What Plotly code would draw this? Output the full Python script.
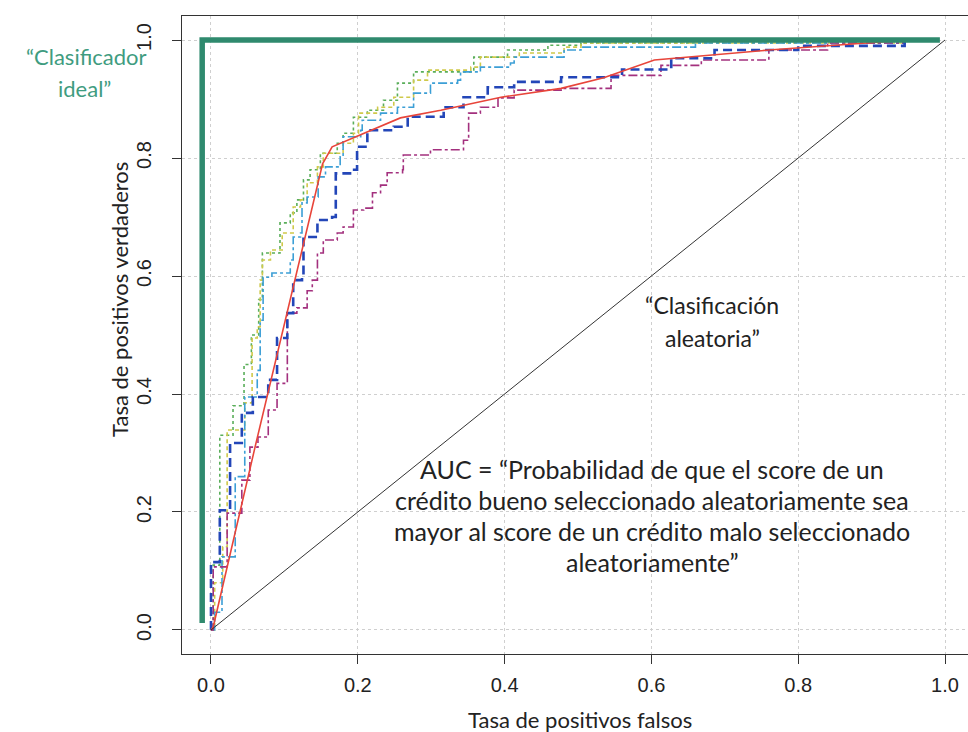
import plotly.graph_objects as go

# ---------------- data ----------------
tick_vals = [0.0, 0.2, 0.4, 0.6, 0.8, 1.0]
tick_text = ["0.0", "0.2", "0.4", "0.6", "0.8", "1.0"]

ideal_x = [-0.012, -0.012, 0.993]
ideal_y = [0.012, 1.0, 1.0]

random_x = [0.0, 1.0]
random_y = [0.0, 1.0]

red_x = [0, 0.003, 0.06, 0.104, 0.152, 0.165, 0.208, 0.258, 0.313, 0.395, 0.477, 0.535, 0.604, 0.76, 0.95]
red_y = [0, 0.005, 0.31, 0.537, 0.79, 0.819, 0.842, 0.868, 0.881, 0.903, 0.918, 0.936, 0.966, 0.983, 1.0]

blue_x = [0, 0, 0.012, 0.026, 0.042, 0.057, 0.078, 0.09, 0.104, 0.112, 0.124, 0.126, 0.145, 0.165, 0.17,
          0.193, 0.199, 0.213, 0.249, 0.268, 0.303, 0.317, 0.344, 0.377, 0.413, 0.477, 0.56, 0.627, 0.686,
          0.8, 0.945]
blue_y = [0, 0.115, 0.203, 0.317, 0.368, 0.395, 0.424, 0.495, 0.537, 0.593, 0.598, 0.666, 0.695, 0.70, 0.774,
          0.78, 0.819, 0.847, 0.853, 0.87, 0.87, 0.886, 0.903, 0.92, 0.929, 0.937, 0.95, 0.969, 0.983,
          0.99, 1.0]

purple_x = [0, 0.003, 0.022, 0.042, 0.053, 0.064, 0.078, 0.09, 0.101, 0.104, 0.117, 0.131, 0.138, 0.145,
            0.153, 0.172, 0.18, 0.194, 0.208, 0.22, 0.231, 0.24, 0.261, 0.262, 0.299, 0.344, 0.351, 0.367,
            0.391, 0.413, 0.477, 0.545, 0.613, 0.668, 0.76, 0.84, 0.945]
purple_y = [0, 0.107, 0.198, 0.254, 0.31, 0.327, 0.373, 0.418, 0.418, 0.537, 0.546, 0.575, 0.593, 0.639,
            0.661, 0.673, 0.683, 0.712, 0.715, 0.741, 0.754, 0.775, 0.78, 0.805, 0.814, 0.83, 0.876, 0.886,
            0.902, 0.915, 0.918, 0.94, 0.957, 0.966, 0.983, 0.995, 1.0]

cyan_x = [0, 0.005, 0.015, 0.033, 0.046, 0.063, 0.067, 0.071, 0.083, 0.108, 0.112, 0.122, 0.124, 0.131,
          0.146, 0.156, 0.176, 0.18, 0.204, 0.206, 0.231, 0.254, 0.276, 0.299, 0.336, 0.34, 0.367, 0.408,
          0.413, 0.481, 0.504, 0.66, 0.945]
cyan_y = [0, 0.03, 0.124, 0.26, 0.395, 0.44, 0.525, 0.598, 0.605, 0.627, 0.666, 0.673, 0.724, 0.734,
          0.768, 0.785, 0.802, 0.836, 0.847, 0.864, 0.876, 0.886, 0.91, 0.927, 0.932, 0.946, 0.954, 0.961,
          0.971, 0.983, 0.988, 0.995, 1.0]

yellow_x = [0, 0.005, 0.016, 0.022, 0.046, 0.056, 0.063, 0.067, 0.07, 0.081, 0.097, 0.112, 0.122, 0.131,
            0.145, 0.153, 0.18, 0.194, 0.201, 0.227, 0.249, 0.276, 0.295, 0.354, 0.367, 0.42, 0.481, 0.504,
            0.945]
yellow_y = [0, 0.08, 0.141, 0.339, 0.385, 0.495, 0.514, 0.593, 0.627, 0.644, 0.673, 0.717, 0.729, 0.758,
            0.785, 0.808, 0.825, 0.842, 0.876, 0.886, 0.903, 0.932, 0.949, 0.954, 0.971, 0.978, 0.988, 0.995,
            1.0]

green_x = [0, 0.003, 0.012, 0.03, 0.045, 0.055, 0.065, 0.07, 0.094, 0.108, 0.117, 0.126, 0.135, 0.149,
           0.172, 0.18, 0.194, 0.213, 0.235, 0.254, 0.276, 0.358, 0.404, 0.459, 0.504, 0.945]
green_y = [0, 0.11, 0.33, 0.38, 0.45, 0.5, 0.56, 0.639, 0.69, 0.707, 0.729, 0.763, 0.78, 0.808,
           0.825, 0.842, 0.869, 0.881, 0.898, 0.927, 0.946, 0.971, 0.983, 0.991, 0.995, 1.0]

x_title = "Tasa de positivos falsos"
y_title = "Tasa de positivos verdaderos"
ideal_label = ["“Clasificador", "ideal”"]
random_label = ["“Clasificación", "aleatoria”"]
auc_label = ["AUC = “Probabilidad de que el score de un",
             "crédito bueno seleccionado aleatoriamente sea",
             "mayor al score de un crédito malo seleccionado",
             "aleatoriamente”"]

# ---------------- figure ----------------
W, H = 968, 732
ML, MR, MT, MB = 182, 0, 16, 78

fig = go.Figure()

def add_curve(x, y, color, width, dash, shape):
    fig.add_trace(go.Scatter(x=x, y=y, mode="lines",
                             line=dict(color=color, width=width, dash=dash, shape=shape),
                             hoverinfo="skip", showlegend=False))

add_curve(green_x, green_y, "#5aae5a", 1.6, "dot", "hv")
add_curve(yellow_x, yellow_y, "#cfc94a", 1.6, "4px,3px", "hv")
add_curve(cyan_x, cyan_y, "#3c9fd6", 1.6, "dashdot", "hv")
add_curve(purple_x, purple_y, "#a3307e", 1.6, "dashdot", "hv")
add_curve(blue_x, blue_y, "#2346b8", 2.6, "9px,5px", "hv")
add_curve(red_x, red_y, "#e8453a", 1.6, "solid", "linear")
add_curve(random_x, random_y, "#333333", 1.0, "solid", "linear")
add_curve(ideal_x, ideal_y, "#2f8a6e", 5.5, "solid", "linear")

font_main = "Lato, 'Open Sans', sans-serif"
for i, t in enumerate(auc_label):
    fig.add_annotation(x=0.601, y=[0.273, 0.220, 0.168, 0.115][i], xref="x", yref="y", text=t,
                       xanchor="center", yanchor="middle", showarrow=False,
                       font=dict(family=font_main, size=25, color="#222222"))
for i, t in enumerate(random_label):
    fig.add_annotation(x=0.683, y=[0.551, 0.495][i], xref="x", yref="y", text=t,
                       xanchor="center", yanchor="middle", showarrow=False,
                       font=dict(family=font_main, size=23, color="#222222"))

def px_to_paper(px, py):
    return (px - ML) / (W - ML - MR), (H - MB - py) / (H - MT - MB)

for i, t in enumerate(ideal_label):
    px, py = px_to_paper([86, 84][i], [57, 89][i])
    fig.add_annotation(x=px, y=py, xref="paper", yref="paper", text=t, showarrow=False,
                       xanchor="center", yanchor="middle",
                       font=dict(family=font_main, size=22, color="#3f9c80"))

px, py = px_to_paper(580, 719)
fig.add_annotation(x=px, y=py, xref="paper", yref="paper", text=x_title, showarrow=False,
                   xanchor="center", yanchor="middle",
                   font=dict(family=font_main, size=22, color="#222222"))
px, py = px_to_paper(119, 300)
fig.add_annotation(x=px, y=py, xref="paper", yref="paper", text=y_title, showarrow=False,
                   xanchor="center", yanchor="middle", textangle=-90,
                   font=dict(family=font_main, size=22, color="#222222"))

axis_common = dict(
    showline=True, linecolor="#333333", linewidth=1.2, mirror=True,
    ticks="outside", ticklen=9, tickcolor="#333333", tickwidth=1.2,
    tickvals=tick_vals, ticktext=tick_text,
    showgrid=True, gridcolor="#cfcfcf", griddash="dot", gridwidth=1,
    zeroline=False, automargin=False,
    tickfont=dict(family="'Liberation Sans', Arial, sans-serif", size=20, color="#222222"),
)

fig.update_layout(
    width=W, height=H,
    margin=dict(l=ML, r=MR, t=MT, b=MB),
    paper_bgcolor="white", plot_bgcolor="white",
    xaxis=dict(range=[-0.0395, 1.0313], ticklabelstandoff=4, **axis_common),
    yaxis=dict(range=[-0.0407, 1.0407], tickangle=-90, ticklabelstandoff=13, **axis_common),
    showlegend=False,
)

fig.write_html("out.html", config={"displayModeBar": False},
               post_script="document.body.style.margin='0';document.body.style.overflow='hidden';")
